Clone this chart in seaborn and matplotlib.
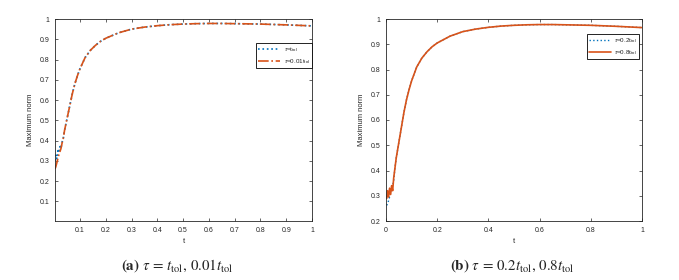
import matplotlib
matplotlib.use("Agg")
import matplotlib.pyplot as plt
import seaborn as sns
import pandas as pd

# shared time grid
t = [0.003, 0.006, 0.01, 0.014, 0.018, 0.022, 0.026, 0.03, 0.035, 0.04, 0.05,
     0.06, 0.07, 0.08, 0.09, 0.10, 0.12, 0.14, 0.16, 0.18, 0.20, 0.25, 0.30,
     0.35, 0.40, 0.45, 0.50, 0.55, 0.60, 0.65, 0.70, 0.80, 0.90, 1.00]

# common smooth part of all curves, from t = 0.035 on
tail = [0.41, 0.45, 0.51, 0.57, 0.63, 0.68, 0.72, 0.755, 0.81, 0.845, 0.87,
        0.89, 0.905, 0.932, 0.95, 0.96, 0.967, 0.972, 0.975, 0.977, 0.978,
        0.978, 0.977, 0.975, 0.971, 0.966]

# panel (a)
norm_a_tau1 = [0.30, 0.33, 0.31, 0.35, 0.34, 0.37, 0.36, 0.39] + tail
norm_a_tau001 = [0.26, 0.27, 0.29, 0.31, 0.33, 0.345, 0.36, 0.385] + tail
labels_a = [r"$\tau$=t$_\mathrm{tol}$", r"$\tau$=0.01t$_\mathrm{tol}$"]

# panel (b)
norm_b_tau02 = [0.262, 0.27, 0.28, 0.295, 0.31, 0.325, 0.34, 0.36] + tail
norm_b_tau08 = [0.29, 0.32, 0.295, 0.33, 0.305, 0.34, 0.32, 0.37] + tail
labels_b = [r"$\tau$=0.2t$_\mathrm{tol}$", r"$\tau$=0.8t$_\mathrm{tol}$"]

blue = "#0072BD"
orange = "#D95319"

sns.set_style("ticks")
plt.rcParams["font.family"] = ["Liberation Sans", "DejaVu Sans"]
plt.rcParams["mathtext.fontset"] = "custom"
plt.rcParams["mathtext.rm"] = "Liberation Sans"
plt.rcParams["mathtext.it"] = "Liberation Sans:italic"

fig = plt.figure(figsize=(6.79, 2.8), dpi=100)
ax1 = fig.add_axes([55 / 679, 59 / 280, 257 / 679, 202 / 280])
ax2 = fig.add_axes([386 / 679, 59 / 280, 256 / 679, 202 / 280])

df_a = pd.DataFrame({"t": t, "a1": norm_a_tau1, "a2": norm_a_tau001})
df_b = pd.DataFrame({"t": t, "b1": norm_b_tau02, "b2": norm_b_tau08})

sns.lineplot(data=df_a, x="t", y="a1", ax=ax1, color=blue, linestyle=":",
             linewidth=1.2, label=labels_a[0])
sns.lineplot(data=df_a, x="t", y="a2", ax=ax1, color=orange, linestyle="-.",
             linewidth=1.2, label=labels_a[1])
sns.lineplot(data=df_b, x="t", y="b1", ax=ax2, color=blue, linestyle=":",
             linewidth=1.0, label=labels_b[0])
sns.lineplot(data=df_b, x="t", y="b2", ax=ax2, color=orange, linestyle="-",
             linewidth=1.2, label=labels_b[1])

ax1.set_xlim(0.003, 1)
ax1.set_ylim(0.003, 1)
ax1.set_xticks([0.1 * i for i in range(1, 11)])
ax1.set_xticklabels(["0.1", "0.2", "0.3", "0.4", "0.5", "0.6", "0.7", "0.8", "0.9", "1"])
ax1.set_yticks([0.1 * i for i in range(1, 11)])
ax1.set_yticklabels(["0.1", "0.2", "0.3", "0.4", "0.5", "0.6", "0.7", "0.8", "0.9", "1"])

ax2.set_xlim(0, 1)
ax2.set_ylim(0.2, 1)
ax2.set_xticks([0, 0.2, 0.4, 0.6, 0.8, 1])
ax2.set_xticklabels(["0", "0.2", "0.4", "0.6", "0.8", "1"])
ax2.set_yticks([0.2 + 0.1 * i for i in range(9)])
ax2.set_yticklabels(["0.2", "0.3", "0.4", "0.5", "0.6", "0.7", "0.8", "0.9", "1"])

legend_pos = {ax1: (1.0, 0.881), ax2: (0.99, 0.926)}
for ax in (ax1, ax2):
    for s in ax.spines.values():
        s.set_visible(True)
        s.set_linewidth(0.6)
        s.set_color("#262626")
    ax.tick_params(direction="in", length=2.5, width=0.5, labelsize=5,
                   colors="#262626", top=True, right=True, pad=4)
    ax.set_xlabel("t", fontsize=5.5, color="#262626", labelpad=3)
    ax.set_ylabel("Maximum norm", fontsize=5.5, color="#262626", labelpad=4)
    leg = ax.legend(loc="upper right", bbox_to_anchor=legend_pos[ax],
                    borderaxespad=0, fontsize=4.5, frameon=True, fancybox=False,
                    edgecolor="black", framealpha=1, handlelength=3.6,
                    handletextpad=0.5, borderpad=0.35, labelspacing=0.45)
    leg.get_frame().set_linewidth(0.6)

fig.text(177 / 679, 1 - 266 / 280,
         r"$\mathbf{(a)}\ \tau\,=\,t_{\mathrm{tol}},\,0.01t_{\mathrm{tol}}$",
         ha="center", va="center", fontsize=10.8, math_fontfamily="stix")
fig.text(512 / 679, 1 - 266 / 280,
         r"$\mathbf{(b)}\ \tau\,=\,0.2t_{\mathrm{tol}},\,0.8t_{\mathrm{tol}}$",
         ha="center", va="center", fontsize=10.8, math_fontfamily="stix")

fig.savefig("out.png", dpi=100)
